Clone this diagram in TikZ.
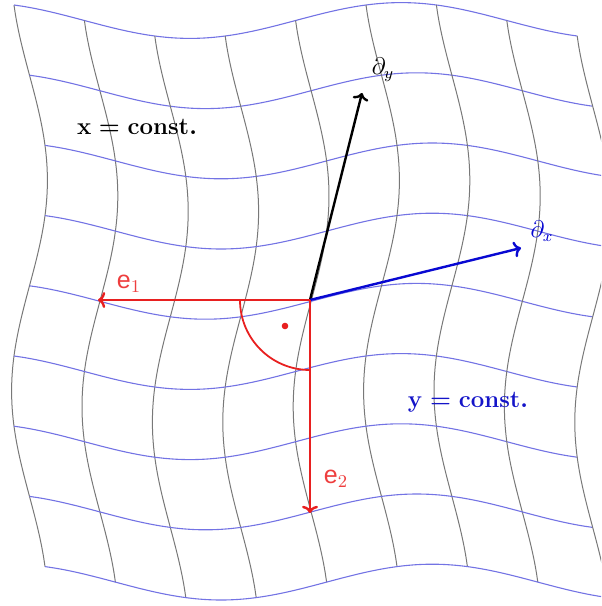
\documentclass[tikz,border=0pt]{standalone}
\usepackage{fontspec}
\newfontfamily\hv{Liberation Sans}
\usetikzlibrary{arrows.meta}
\definecolor{gridgray}{RGB}{120,120,120}
\definecolor{gridblue}{RGB}{115,115,228}
\definecolor{vecred}{RGB}{232,32,32}
\definecolor{labred}{RGB}{238,62,62}
\definecolor{vecblue}{RGB}{8,8,210}
\definecolor{txtblue}{RGB}{20,20,200}
\begin{document}
\begin{tikzpicture}[x=0.5pt,y=-0.5pt,
  vgrid/.style={gridgray,line width=0.5pt},
  hgrid/.style={gridblue,line width=0.55pt},
  vec/.style={line width=1.2pt,-{To[length=3.6pt,width=8pt]}},
  elab/.style={labred,font=\hv\fontsize{12.5}{14}\selectfont},
  plab/.style={font=\fontsize{12}{14}\selectfont},
  clab/.style={font=\fontsize{11.8}{14}\selectfont\boldmath}]
\useasboundingbox (0,0) rectangle (601,606);
\clip (0,0) rectangle (601,606);
\foreach \i in {0,...,8}{
  \draw[vgrid] plot[domain=0:8,samples=60,smooth]
    ({14+70.4*\i+15.5-17.9*cos(60*(\x+0.5))},{5+70.2*\x+15.5-17.9*cos(60*(\i+0.5))});
  \draw[hgrid] plot[domain=0:8,samples=60,smooth]
    ({14+70.4*\x+15.5-17.9*cos(60*(\i+0.5))},{5+70.2*\i+15.5-17.9*cos(60*(\x+0.5))});
}
% origin and tips
\coordinate (O) at (310,300);
\coordinate (ty) at (362,93);
\coordinate (tx) at (521,248);
\coordinate (t1) at (98,300);
\coordinate (t2) at (310,513);
% right-angle mark
\draw[vecred,line width=0.9pt] (O) ++(-70,0) arc[start angle=180,end angle=90,radius=70];
\fill[vecred] (285,326) circle (3.3);
% vectors
\draw[vec,black] (O) -- (ty);
\draw[vec,vecblue] (O) -- (tx);
\draw[vec,vecred] (O) -- (t1);
\draw[vec,vecred] (O) -- (t2);
% labels
\node[plab] (ly) at (383,70) {$\partial_y$};
\node[plab,vecblue] (lx) at (542,231) {$\partial_x$};
\node[elab] (l1) at (129,284) {e$_1$};
\node[elab] (l2) at (336,479) {e$_2$};
\node[clab] (xc) at (137,127) {$\mathbf{x=const.}$};
\node[clab,txtblue] (yc) at (468,402) {$\mathbf{y=const.}$};
\end{tikzpicture}
\end{document}
